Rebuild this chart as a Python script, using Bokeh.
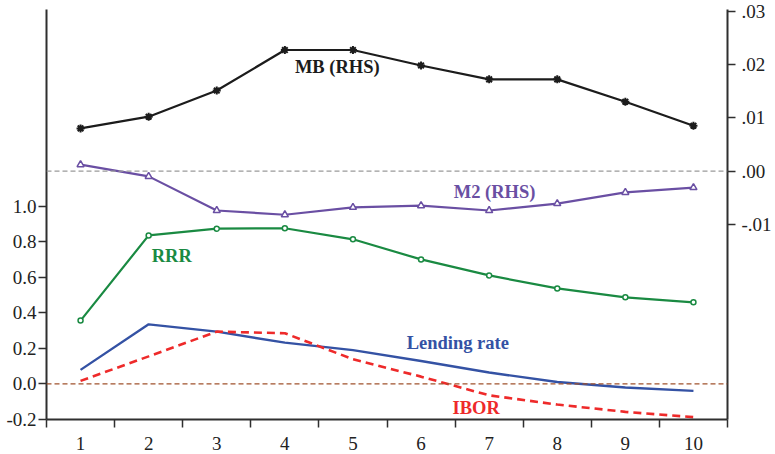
from bokeh.plotting import figure
from bokeh.models import (Range1d, LinearAxis, FixedTicker, CustomJSTickFormatter, Span)
from bokeh.core.properties import value
from bokeh.embed import file_html
from bokeh.resources import INLINE

# ---- data ----
periods = [1, 2, 3, 4, 5, 6, 7, 8, 9, 10]
rrr = [0.356, 0.835, 0.873, 0.875, 0.813, 0.700, 0.610, 0.537, 0.487, 0.459]
lending_rate = [0.079, 0.335, 0.294, 0.232, 0.190, 0.129, 0.064, 0.011, -0.020, -0.039]
ibor = [0.017, 0.155, 0.294, 0.285, 0.139, 0.041, -0.064, -0.116, -0.157, -0.187]
mb_rhs = [0.0080, 0.0102, 0.0151, 0.0227, 0.0227, 0.0198, 0.0172, 0.0172, 0.0130, 0.0085]
m2_rhs = [0.0012, -0.0010, -0.0074, -0.0082, -0.0068, -0.0065, -0.0074, -0.0061, -0.0040, -0.0031]
left_ticks = [-0.2, 0.0, 0.2, 0.4, 0.6, 0.8, 1.0]
right_ticks = [-0.01, 0.0, 0.01, 0.02, 0.03]

FONT = "Liberation Serif"
AX = "#2f2f2f"
C_MB = "#1c1c1c"
C_M2 = "#6a4fa3"
C_RRR = "#1a8a42"
C_LEND = "#3452a4"
C_IBOR = "#ee2a2a"

p = figure(width=774, height=453, output_backend="svg", toolbar_location=None,
           x_range=Range1d(0.5, 10.5), y_range=Range1d(-0.2, 2.105),
           min_border_left=46, min_border_right=42, min_border_top=9,
           min_border_bottom=34, x_axis_location=None, y_axis_location=None)
p.outline_line_color = None
p.grid.visible = False
p.background_fill_color = "white"
p.border_fill_color = "white"
p.extra_y_ranges = {"rhs": Range1d(-0.0466, 0.0303)}

def style(ax):
    ax.axis_line_color = AX
    ax.axis_line_width = 2
    ax.major_tick_line_color = AX
    ax.major_tick_line_width = 1.5
    ax.minor_tick_line_color = AX
    ax.minor_tick_line_width = 1.5
    ax.major_label_text_font = FONT
    ax.major_label_text_font_size = "19px"
    ax.major_label_text_color = "#222222"
    ax.major_tick_in = 0

xb = LinearAxis(ticker=FixedTicker(ticks=periods,
                                   minor_ticks=[i + 0.5 for i in range(0, 11)]))
style(xb)
xb.major_tick_out = 0
xb.minor_tick_out = 8
xb.minor_tick_in = 0
xb.major_label_standoff = 9
p.add_layout(xb, "below")

yl = LinearAxis(ticker=FixedTicker(ticks=left_ticks, minor_ticks=[]),
                formatter=CustomJSTickFormatter(code="return tick.toFixed(1);"))
style(yl)
yl.major_tick_out = 8
yl.major_label_standoff = 2
p.add_layout(yl, "left")

yr = LinearAxis(y_range_name="rhs", ticker=FixedTicker(ticks=right_ticks, minor_ticks=[]),
                formatter=CustomJSTickFormatter(code="return tick.toFixed(2).replace('0.', '.');"))
style(yr)
yr.major_tick_out = 8
yr.major_label_standoff = 6
p.add_layout(yr, "right")

p.add_layout(Span(location=0, dimension="width", y_range_name="rhs",
                  line_color="#9a9a9a", line_dash="5 3", line_width=1.3))
p.add_layout(Span(location=0, dimension="width",
                  line_color="#a0522d", line_dash="5 3", line_width=1.3))

# left-axis series
p.line(periods, rrr, line_color=C_RRR, line_width=2.2)
p.scatter(periods, rrr, marker="circle", size=5, line_color=C_RRR,
          fill_color="white", line_width=1.5)
p.line(periods, lending_rate, line_color=C_LEND, line_width=2.4)
p.line(periods, ibor, line_color=C_IBOR, line_width=2.6, line_dash="8 5")

# right-axis series
p.line(periods, mb_rhs, y_range_name="rhs", line_color=C_MB, line_width=2.2)
p.scatter(periods, mb_rhs, y_range_name="rhs", marker="asterisk", size=8,
          line_color=C_MB, line_width=2)
p.line(periods, m2_rhs, y_range_name="rhs", line_color=C_M2, line_width=2.2)
p.scatter(periods, m2_rhs, y_range_name="rhs", marker="triangle", size=7,
          line_color=C_M2, fill_color="white", line_width=1.5)

def label(x, y, txt, color, rng="default"):
    p.text(x=[x], y=[y], text=[txt], text_color=color, text_font=value(FONT),
           text_font_style="bold", text_font_size="18.5px", text_align="center",
           text_baseline="middle", y_range_name=rng)

label(4.77, 0.0195, "MB (RHS)", C_MB, "rhs")
label(7.08, -0.0040, "M2 (RHS)", C_M2, "rhs")
label(2.34, 0.719, "RRR", C_RRR)
label(6.54, 0.229, "Lending rate", C_LEND)
label(6.81, -0.137, "IBOR", C_IBOR)

open("out.html", "w").write(file_html(p, INLINE))
